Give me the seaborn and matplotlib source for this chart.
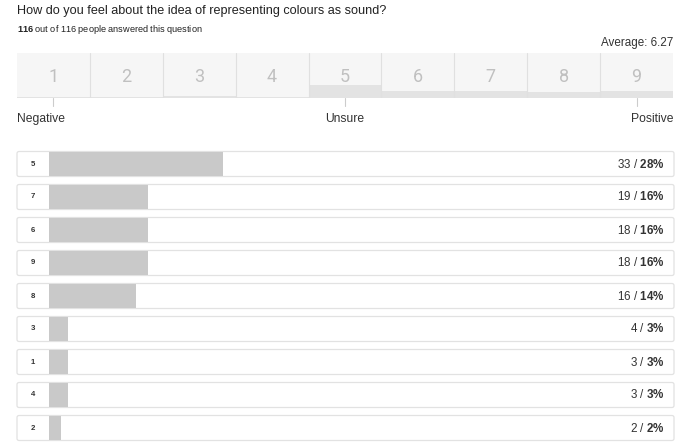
import matplotlib
matplotlib.use("Agg")
import matplotlib.pyplot as plt
import seaborn as sns
import pandas as pd
from matplotlib.patches import FancyBboxPatch
from matplotlib.transforms import blended_transform_factory

# ---- data ----
scores = ["1", "2", "3", "4", "5", "6", "7", "8", "9"]
score_counts = [3, 2, 4, 3, 33, 18, 19, 16, 18]
row_labels = ["5", "7", "6", "9", "8", "3", "1", "4", "2"]
row_counts = [33, 19, 18, 18, 16, 4, 3, 3, 2]
row_pcts = [28, 16, 16, 16, 14, 3, 3, 3, 2]
total = 116
answered = 116
average_text = "Average: 6.27"
scale_labels = ["Negative", "Unsure", "Positive"]
title = "How do you feel about the idea of representing colours as sound?"

sns.set_theme(style="white")
plt.rcParams["font.family"] = ["Liberation Sans", "DejaVu Sans"]
plt.rcParams["mathtext.fontset"] = "custom"
plt.rcParams["mathtext.rm"] = "Liberation Sans"
plt.rcParams["mathtext.bf"] = "Liberation Sans:bold"

W, H = 688, 442
fig = plt.figure(figsize=(W / 100, H / 100), dpi=100)
fig.patch.set_facecolor("white")

# background pixel axes
bg = fig.add_axes([0, 0, 1, 1], zorder=0)
bg.set_xlim(0, W)
bg.set_ylim(H, 0)
bg.axis("off")

bg.text(17, 11, title, fontsize=9.05, color="#222222", ha="left", va="center")
bg.text(17, 30, r"$\mathbf{%d}$ out of %d people answered this question" % (answered, total),
        fontsize=6.6, color="#222222", ha="left", va="center")
bg.text(673, 43, average_text, fontsize=8.4, color="#333333", ha="right", va="center")

# ---- top scale ----
top = fig.add_axes([17 / W, (H - 98) / H, 656 / W, 45 / H], zorder=1)
top.set_facecolor("#f6f6f6")
df_top = pd.DataFrame({"score": scores, "count": score_counts})
sns.barplot(data=df_top, x="score", y="count", order=scores, color="#e3e3e3",
            saturation=1, width=1.0, linewidth=0, ax=top)
top.set_ylim(0, total)
top.set_xlim(-0.5, len(scores) - 0.5)
for i in range(len(scores) - 1):
    top.axvline(i + 0.5, color="#e0e0e0", lw=0.8, zorder=3)
for s in top.spines.values():
    s.set_visible(False)
top.set_xticks([]); top.set_yticks([])
top.set_xlabel(""); top.set_ylabel("")
tr = blended_transform_factory(top.transData, top.transAxes)
for i, s in enumerate(scores):
    top.text(i, 0.46, s, transform=tr, ha="center", va="center",
             fontsize=13, color="#c0c0c0", zorder=4,
             family=["Roboto", "Liberation Sans"])
mid = (len(scores) - 1) / 2
for i, (lab, ha) in enumerate(zip(scale_labels, ["left", "center", "right"])):
    xi = [0, mid, len(scores) - 1][i]
    top.plot([xi, xi], [0, -8 / 45], transform=tr, color="#cccccc", lw=0.8, clip_on=False)
    xt = {"left": -0.5, "center": mid, "right": len(scores) - 0.5}[ha]
    top.text(xt, -21 / 45, lab, transform=tr, ha=ha, va="center",
             fontsize=8.7, color="#333333")

# ---- rows ----
ax = fig.add_axes([49 / W, (H - 444.5) / H, 620 / W, 297 / H], zorder=2)
ax.patch.set_alpha(0)
df = pd.DataFrame({"label": row_labels, "pct": row_pcts})
sns.barplot(data=df, x="pct", y="label", order=row_labels, orient="h",
            color="#c9c9c9", saturation=1, width=0.72, linewidth=0, ax=ax)
ax.set_xlim(0, 100)
ax.set_ylim(len(row_labels) - 0.5, -0.5)
ax.axis("off")

for i, (lab, cnt, pct) in enumerate(zip(row_labels, row_counts, row_pcts)):
    yc = 164 + 33 * i
    box = FancyBboxPatch((17, yc - 12.5), 657, 25,
                         boxstyle="round,pad=0,rounding_size=2",
                         facecolor="white", edgecolor="#e2e2e2", lw=0.9)
    bg.add_patch(box)
    bg.text(33, yc, lab, ha="center", va="center", fontsize=5.6,
            fontweight="bold", color="#333333")
    fig.text(665 / W, 1 - yc / H, r"%d / $\mathbf{%d\%%}$" % (cnt, pct),
             ha="right", va="center", fontsize=8.4, color="#333333", zorder=5)

fig.savefig("out.png", dpi=100)
